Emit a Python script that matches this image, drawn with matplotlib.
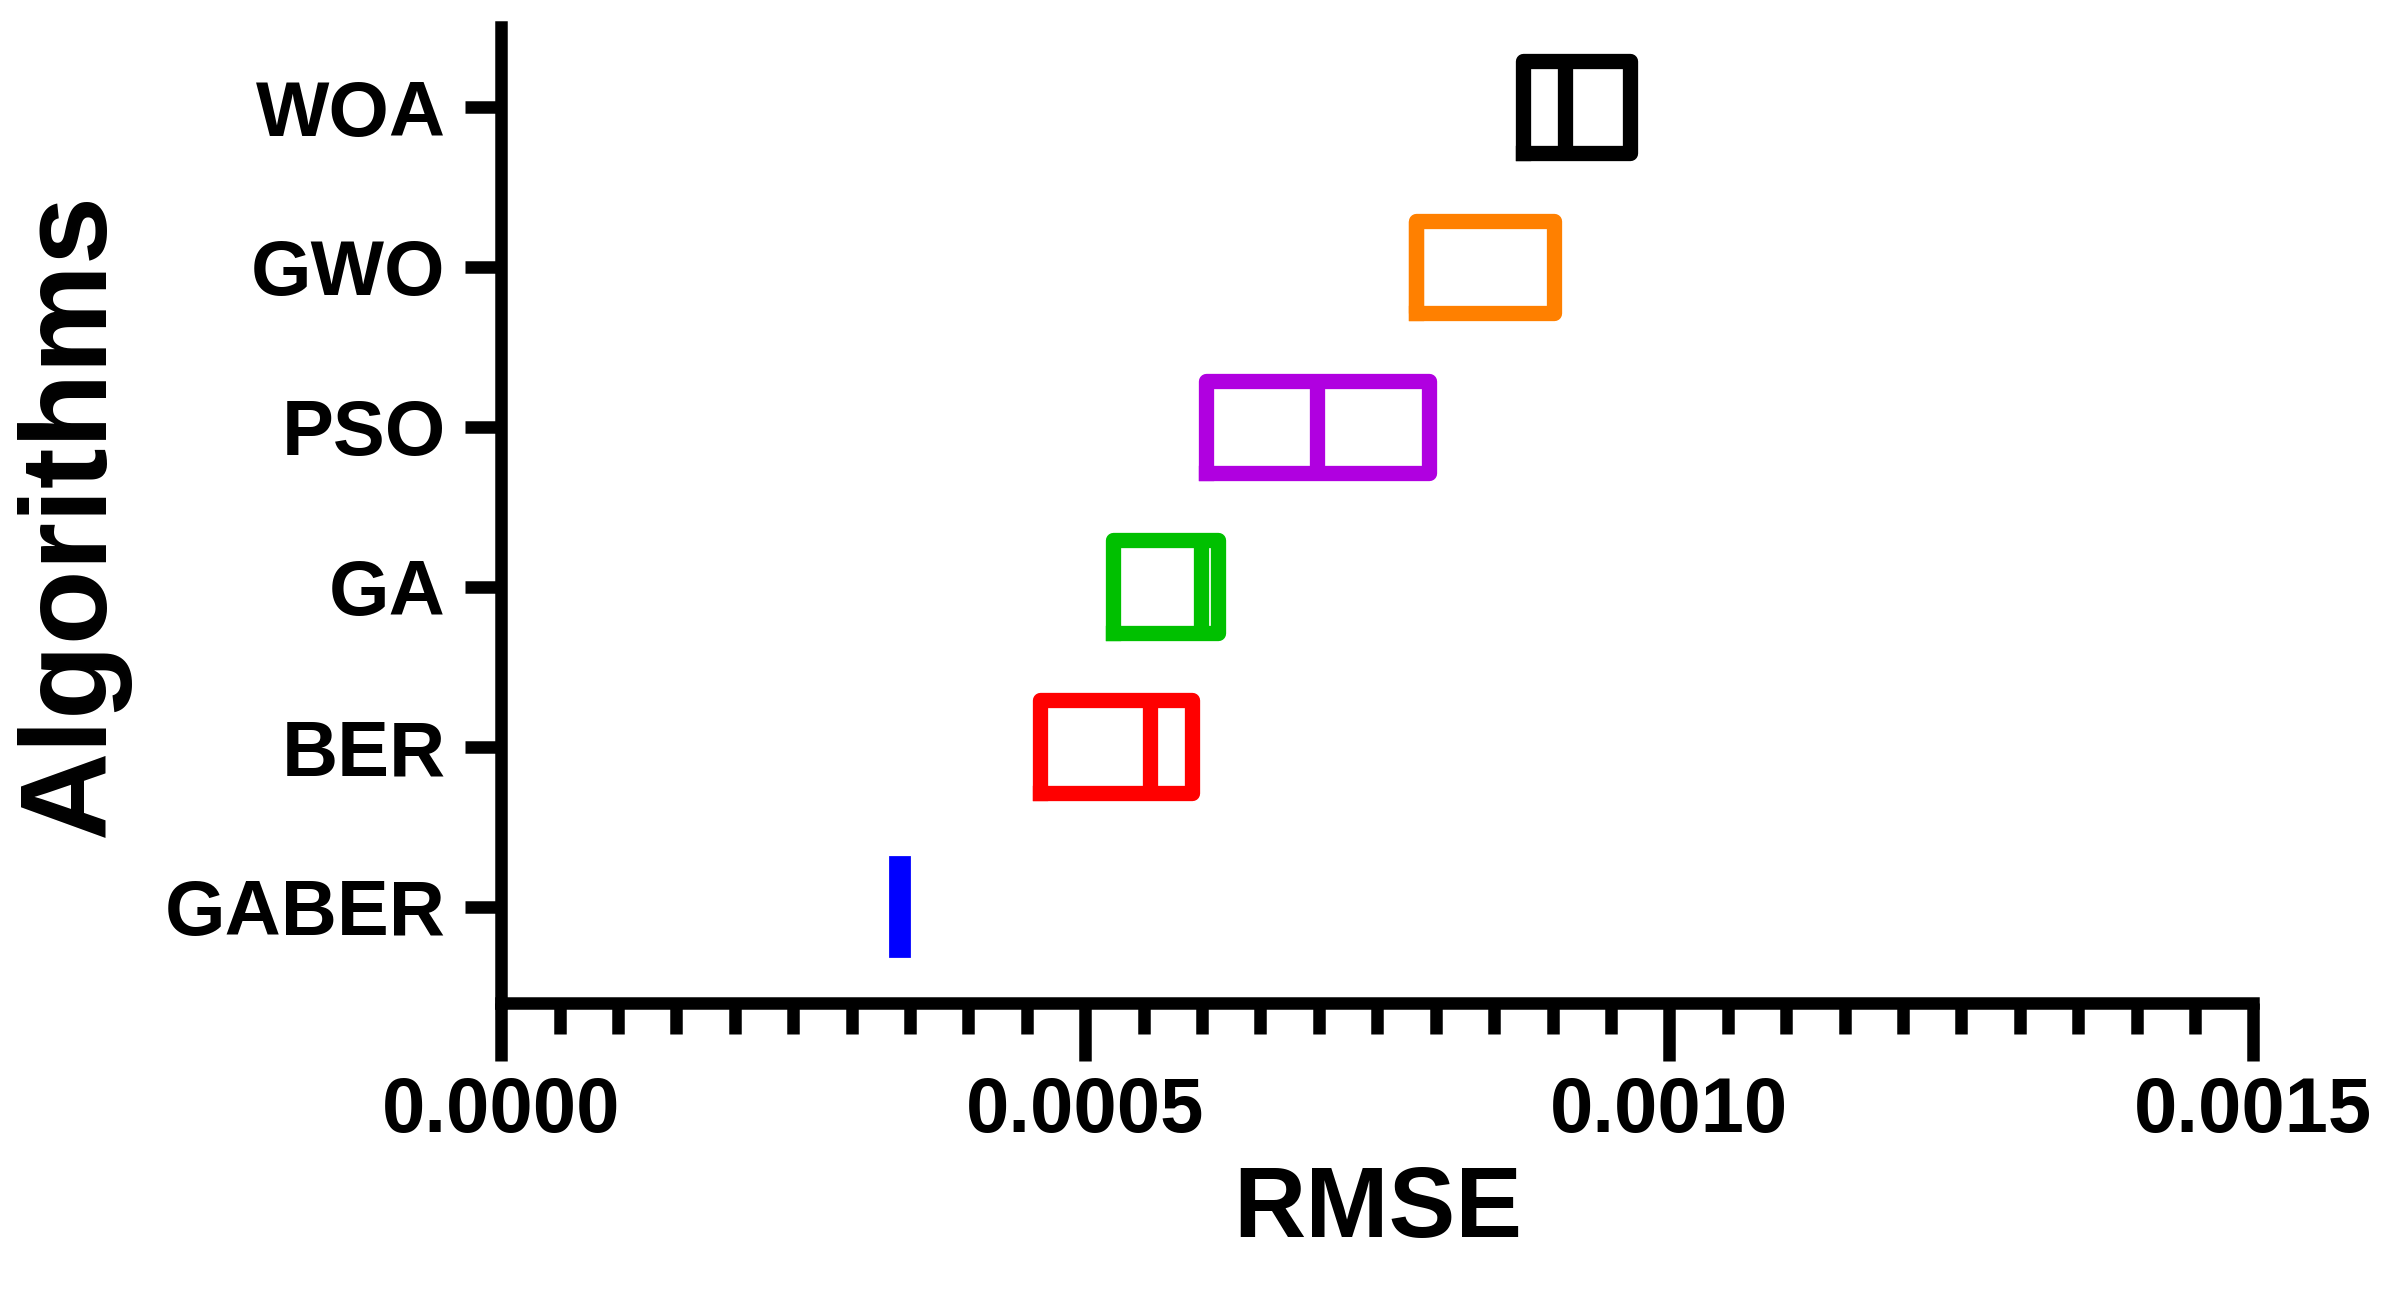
import matplotlib
matplotlib.use('Agg')
import matplotlib.pyplot as plt
import matplotlib.ticker as mticker

ALGOS  = ['GABER', 'BER', 'GA', 'PSO', 'GWO', 'WOA']
COLORS = ['#0000FF', '#FF0000', '#00C000', '#B000E0', '#FF8000', '#000000']
Q1     = [0.000333, 0.000461, 0.000524, 0.000603, 0.000783, 0.000875]
MED    = [0.000341, 0.000555, 0.000599, 0.000698, 0.000783, 0.000911]
Q3     = [0.000349, 0.000591, 0.000614, 0.000794, 0.000901, 0.000966]

plt.rcParams['font.family'] = ['Liberation Sans', 'DejaVu Sans']
plt.rcParams['font.weight'] = 'bold'

fig = plt.figure(figsize=(23.87, 12.92), dpi=100, facecolor='white')
ax = fig.add_axes([0.21, 0.224, 0.734, 0.755])

for i, (a, c) in enumerate(zip(ALGOS, COLORS)):
    st = [dict(q1=Q1[i], med=MED[i], q3=Q3[i], whislo=Q1[i], whishi=Q3[i], label=a)]
    if a == 'GABER':
        ax.bxp(st, positions=[i], vert=False, widths=0.62, showfliers=False, showcaps=False,
               patch_artist=True,
               boxprops=dict(facecolor=c, edgecolor=c, linewidth=2),
               medianprops=dict(color=c, linewidth=2),
               whiskerprops=dict(color=c, linewidth=0))
    else:
        ax.bxp(st, positions=[i], vert=False, widths=0.58, showfliers=False, showcaps=False,
               boxprops=dict(color=c, linewidth=11),
               medianprops=dict(color=c, linewidth=11),
               whiskerprops=dict(color=c, linewidth=0))

ax.set_yticks(range(len(ALGOS)))
ax.set_yticklabels(ALGOS, fontsize=56, fontweight='bold')
ax.set_ylim(-0.6, 5.5)
ax.set_xlim(0, 0.0015)
ax.xaxis.set_major_locator(mticker.MultipleLocator(0.0005))
ax.xaxis.set_minor_locator(mticker.MultipleLocator(0.00005))
ax.xaxis.set_major_formatter(mticker.FormatStrFormatter('%.4f'))
ax.tick_params(axis='x', labelsize=56)
for lbl in ax.get_xticklabels():
    lbl.set_fontweight('bold')
ax.tick_params(axis='x', which='major', length=42, width=9, pad=10)
ax.tick_params(axis='x', which='minor', length=22, width=9)
ax.tick_params(axis='y', which='major', length=26, width=9, pad=14)
for s in ['top', 'right']:
    ax.spines[s].set_visible(False)
for s in ['left', 'bottom']:
    ax.spines[s].set_linewidth(9)

ax.set_xlabel('RMSE', fontsize=72, fontweight='bold', labelpad=12)
ax.set_ylabel('Algorithms', fontsize=88, fontweight='bold', labelpad=25)

fig.savefig('out.png', dpi=100, facecolor='white')
